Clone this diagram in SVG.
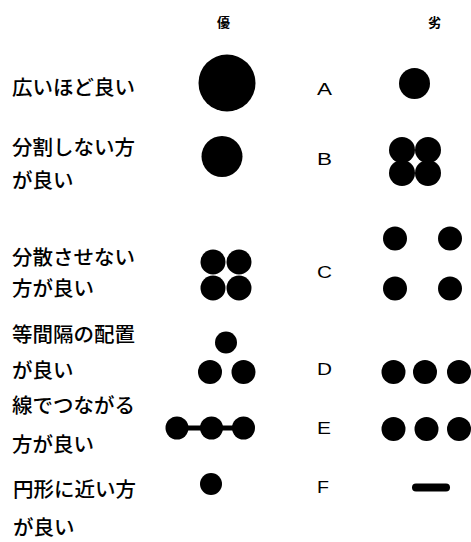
<svg xmlns="http://www.w3.org/2000/svg" width="471" height="542" viewBox="0 0 471 542">
<style>
.lbl{font-family:"Noto Sans CJK JP","Noto Sans CJK SC",sans-serif;font-size:20.5px;font-weight:500;fill:#000}
.hd{font-family:"Noto Sans CJK JP","Noto Sans CJK SC",sans-serif;font-size:13px;font-weight:bold;fill:#000}
.let{font-family:"Liberation Sans","DejaVu Sans",sans-serif;font-size:16.5px;fill:#000}
circle{fill:#000}
</style>
<rect width="471" height="542" fill="#fff"/>
<g id="header">
<text class="hd" x="217" y="27">優</text>
<text class="hd" x="428" y="27">劣</text>
</g>
<g id="rowA">
<text class="lbl" x="12" y="95">広いほど良い</text>
<circle cx="227" cy="83" r="28.5"/>
<text class="let" x="317" y="95" textLength="15" lengthAdjust="spacingAndGlyphs">A</text>
<circle cx="414.5" cy="83.5" r="15.5"/>
</g>
<g id="rowB">
<text class="lbl" x="12" y="155">分割しない方</text>
<text class="lbl" x="12" y="188">が良い</text>
<circle cx="222" cy="156.5" r="20.5"/>
<text class="let" x="317" y="165" textLength="15" lengthAdjust="spacingAndGlyphs">B</text>
<circle cx="402" cy="150" r="13"/>
<circle cx="428" cy="150" r="13"/>
<circle cx="402" cy="173" r="13"/>
<circle cx="428" cy="173" r="13"/>
</g>
<g id="rowC">
<text class="lbl" x="12" y="265">分散させない</text>
<text class="lbl" x="12" y="296">方が良い</text>
<circle cx="213" cy="262" r="12.5"/>
<circle cx="239" cy="262" r="12.5"/>
<circle cx="213" cy="288" r="12.5"/>
<circle cx="239" cy="288" r="12.5"/>
<text class="let" x="317" y="278" textLength="15" lengthAdjust="spacingAndGlyphs">C</text>
<circle cx="395" cy="238.5" r="12"/>
<circle cx="450" cy="238.5" r="12"/>
<circle cx="395" cy="288.5" r="12"/>
<circle cx="450" cy="288.5" r="12"/>
</g>
<g id="rowD">
<text class="lbl" x="12" y="342">等間隔の配置</text>
<text class="lbl" x="12" y="378">が良い</text>
<circle cx="226" cy="342.5" r="11"/>
<circle cx="210" cy="372" r="12"/>
<circle cx="243.5" cy="372" r="12"/>
<text class="let" x="317" y="375" textLength="15" lengthAdjust="spacingAndGlyphs">D</text>
<circle cx="393.5" cy="372" r="12"/>
<circle cx="425" cy="372" r="12"/>
<circle cx="459" cy="372" r="12"/>
</g>
<g id="rowE">
<text class="lbl" x="12" y="413">線でつながる</text>
<text class="lbl" x="12" y="452">方が良い</text>
<line x1="177" y1="428" x2="243.5" y2="428" stroke="#000" stroke-width="5"/>
<circle cx="177" cy="428" r="11.5"/>
<circle cx="211.5" cy="428" r="11.5"/>
<circle cx="243.5" cy="428" r="11.5"/>
<text class="let" x="317" y="434" textLength="14" lengthAdjust="spacingAndGlyphs">E</text>
<circle cx="393.5" cy="429" r="12"/>
<circle cx="426.5" cy="429" r="12"/>
<circle cx="459" cy="429" r="12"/>
</g>
<g id="rowF">
<text class="lbl" x="13" y="497">円形に近い方</text>
<text class="lbl" x="13" y="535">が良い</text>
<circle cx="211" cy="484" r="11"/>
<text class="let" x="317" y="493" textLength="12" lengthAdjust="spacingAndGlyphs">F</text>
<rect x="412" y="483.5" width="38" height="8" rx="4" fill="#000"/>
</g>
</svg>
